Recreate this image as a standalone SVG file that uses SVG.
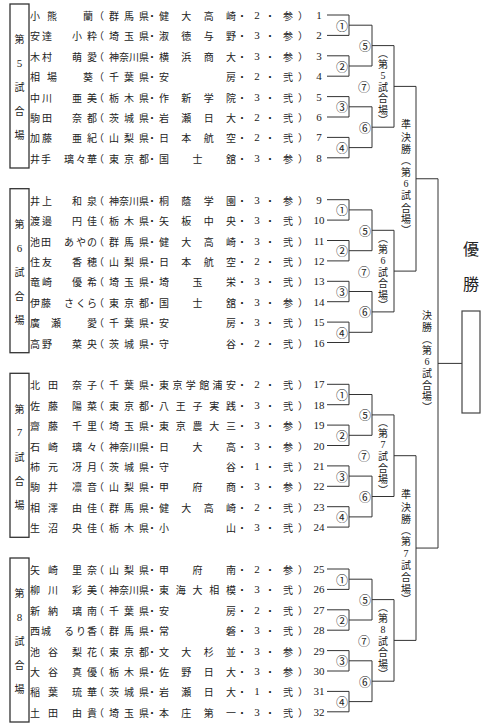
<svg xmlns="http://www.w3.org/2000/svg" width="498" height="724" viewBox="0 0 498 724">
<style>
.t{font-family:"Noto Sans CJK JP","Noto Sans CJK SC",sans-serif;font-size:10px;fill:#222;text-anchor:middle;dominant-baseline:central}
.c{font-size:12px}
.d{font-family:"Liberation Serif",serif;font-size:11px}
.dv{font-family:"Liberation Serif",serif;font-size:10px}
.n{font-family:"Liberation Serif",serif;font-size:11px;fill:#222;text-anchor:middle;dominant-baseline:central}
.w{font-family:"Noto Sans CJK JP","Noto Sans CJK SC",sans-serif;font-size:16px;fill:#222;text-anchor:middle;dominant-baseline:central}
.box{fill:none;stroke:#333;stroke-width:1.3}
.ln{fill:none;stroke:#333;stroke-width:1}
</style>
<rect width="498" height="724" fill="#fff"/>

<g id="venue5"><rect class="box" x="10" y="4" width="19" height="164"/><text class="t" x="19.5 19.5 19.5 19.5 19.5" y="38.9 62.9 86.9 110.9 134.9">第<tspan class="d">5</tspan>試合場</text></g>
<g id="venue6"><rect class="box" x="10" y="188.7" width="19" height="164"/><text class="t" x="19.5 19.5 19.5 19.5 19.5" y="223.6 247.6 271.6 295.6 319.6">第<tspan class="d">6</tspan>試合場</text></g>
<g id="venue7"><rect class="box" x="10" y="373.3" width="19" height="164"/><text class="t" x="19.5 19.5 19.5 19.5 19.5" y="408.2 432.2 456.2 480.2 504.2">第<tspan class="d">7</tspan>試合場</text></g>
<g id="venue8"><rect class="box" x="10" y="558" width="19" height="164"/><text class="t" x="19.5 19.5 19.5 19.5 19.5" y="592.9 616.9 640.9 664.9 688.9">第<tspan class="d">8</tspan>試合場</text></g>

<g id="p1"><text class="t" y="15"><tspan x="35 52 88">小熊蘭</tspan><tspan x="99 114 129 144 152">（群馬県・</tspan><tspan x="164 186.3 208.7 231">健大高崎</tspan><tspan x="242">・</tspan><tspan x="257" class="d">2</tspan><tspan x="270 288 303">・参）</tspan></text><text class="n" x="319" y="15">1</text></g>
<g id="p2"><text class="t" y="35.4"><tspan x="35 47 77 92">安達小粋</tspan><tspan x="99 114 129 144 152">（埼玉県・</tspan><tspan x="164 186.3 208.7 231">淑徳与野</tspan><tspan x="242">・</tspan><tspan x="257" class="d">3</tspan><tspan x="270 288 303">・参）</tspan></text><text class="n" x="319" y="35.4">2</text></g>
<g id="p3"><text class="t" y="55.8"><tspan x="35 47 77 92">木村萌愛</tspan><tspan x="99 114 124 134 144 152">（神奈川県・</tspan><tspan x="164 186.3 208.7 231">横浜商大</tspan><tspan x="242">・</tspan><tspan x="257" class="d">3</tspan><tspan x="270 288 303">・参）</tspan></text><text class="n" x="319" y="55.8">3</text></g>
<g id="p4"><text class="t" y="76.2"><tspan x="35 52 88">相場葵</tspan><tspan x="99 114 129 144 152">（千葉県・</tspan><tspan x="164 231">安房</tspan><tspan x="242">・</tspan><tspan x="257" class="d">2</tspan><tspan x="270 288 303">・弐）</tspan></text><text class="n" x="319" y="76.2">4</text></g>
<g id="p5"><text class="t" y="96.6"><tspan x="35 47 77 92">中川亜美</tspan><tspan x="99 114 129 144 152">（栃木県・</tspan><tspan x="164 186.3 208.7 231">作新学院</tspan><tspan x="242">・</tspan><tspan x="257" class="d">3</tspan><tspan x="270 288 303">・弐）</tspan></text><text class="n" x="319" y="96.6">5</text></g>
<g id="p6"><text class="t" y="117"><tspan x="35 47 77 92">駒田奈都</tspan><tspan x="99 114 129 144 152">（茨城県・</tspan><tspan x="164 186.3 208.7 231">岩瀬日大</tspan><tspan x="242">・</tspan><tspan x="257" class="d">2</tspan><tspan x="270 288 303">・弐）</tspan></text><text class="n" x="319" y="117">6</text></g>
<g id="p7"><text class="t" y="137.4"><tspan x="35 47 77 92">加藤亜紀</tspan><tspan x="99 114 129 144 152">（山梨県・</tspan><tspan x="164 186.3 208.7 231">日本航空</tspan><tspan x="242">・</tspan><tspan x="257" class="d">2</tspan><tspan x="270 288 303">・弐）</tspan></text><text class="n" x="319" y="137.4">7</text></g>
<g id="p8"><text class="t" y="157.8"><tspan x="35 46 69 81 92">井手璃々華</tspan><tspan x="99 114 129 144 152">（東京都・</tspan><tspan x="164 197.5 231">国士舘</tspan><tspan x="242">・</tspan><tspan x="257" class="d">3</tspan><tspan x="270 288 303">・参）</tspan></text><text class="n" x="319" y="157.8">8</text></g>

<g id="p9"><text class="t" y="199.7"><tspan x="35 47 77 92">井上和泉</tspan><tspan x="99 114 124 134 144 152">（神奈川県・</tspan><tspan x="164 186.3 208.7 231">桐蔭学園</tspan><tspan x="242">・</tspan><tspan x="257" class="d">3</tspan><tspan x="270 288 303">・参）</tspan></text><text class="n" x="319" y="199.7">9</text></g>
<g id="p10"><text class="t" y="220.1"><tspan x="35 47 77 92">渡邉円佳</tspan><tspan x="99 114 129 144 152">（栃木県・</tspan><tspan x="164 186.3 208.7 231">矢板中央</tspan><tspan x="242">・</tspan><tspan x="257" class="d">3</tspan><tspan x="270 288 303">・弐）</tspan></text><text class="n" x="319" y="220.1">10</text></g>
<g id="p11"><text class="t" y="240.5"><tspan x="35 46 69 81 92">池田あやの</tspan><tspan x="99 114 129 144 152">（群馬県・</tspan><tspan x="164 186.3 208.7 231">健大高崎</tspan><tspan x="242">・</tspan><tspan x="257" class="d">3</tspan><tspan x="270 288 303">・弐）</tspan></text><text class="n" x="319" y="240.5">11</text></g>
<g id="p12"><text class="t" y="260.9"><tspan x="35 47 77 92">住友香穂</tspan><tspan x="99 114 129 144 152">（山梨県・</tspan><tspan x="164 186.3 208.7 231">日本航空</tspan><tspan x="242">・</tspan><tspan x="257" class="d">2</tspan><tspan x="270 288 303">・弐）</tspan></text><text class="n" x="319" y="260.9">12</text></g>
<g id="p13"><text class="t" y="281.3"><tspan x="35 47 77 92">竜崎優希</tspan><tspan x="99 114 129 144 152">（埼玉県・</tspan><tspan x="164 197.5 231">埼玉栄</tspan><tspan x="242">・</tspan><tspan x="257" class="d">3</tspan><tspan x="270 288 303">・弐）</tspan></text><text class="n" x="319" y="281.3">13</text></g>
<g id="p14"><text class="t" y="301.7"><tspan x="35 46 69 81 92">伊藤さくら</tspan><tspan x="99 114 129 144 152">（東京都・</tspan><tspan x="164 197.5 231">国士舘</tspan><tspan x="242">・</tspan><tspan x="257" class="d">3</tspan><tspan x="270 288 303">・参）</tspan></text><text class="n" x="319" y="301.7">14</text></g>
<g id="p15"><text class="t" y="322.1"><tspan x="35 56 92">廣瀬愛</tspan><tspan x="99 114 129 144 152">（千葉県・</tspan><tspan x="164 231">安房</tspan><tspan x="242">・</tspan><tspan x="257" class="d">3</tspan><tspan x="270 288 303">・弐）</tspan></text><text class="n" x="319" y="322.1">15</text></g>
<g id="p16"><text class="t" y="342.5"><tspan x="35 47 77 92">高野菜央</tspan><tspan x="99 114 129 144 152">（茨城県・</tspan><tspan x="164 231">守谷</tspan><tspan x="242">・</tspan><tspan x="257" class="d">2</tspan><tspan x="270 288 303">・弐）</tspan></text><text class="n" x="319" y="342.5">16</text></g>

<g id="p17"><text class="t" y="384.3"><tspan x="35 53 77 92">北田奈子</tspan><tspan x="99 114 129 144 152">（千葉県・</tspan><tspan x="164 177.4 190.8 204.2 217.6 231">東京学館浦安</tspan><tspan x="242">・</tspan><tspan x="257" class="d">2</tspan><tspan x="270 288 303">・弐）</tspan></text><text class="n" x="319" y="384.3">17</text></g>
<g id="p18"><text class="t" y="404.7"><tspan x="35 53 77 92">佐藤陽菜</tspan><tspan x="99 114 129 144 152">（東京都・</tspan><tspan x="164 180.75 197.5 214.25 231">八王子実践</tspan><tspan x="242">・</tspan><tspan x="257" class="d">3</tspan><tspan x="270 288 303">・弐）</tspan></text><text class="n" x="319" y="404.7">18</text></g>
<g id="p19"><text class="t" y="425.1"><tspan x="35 53 77 92">齋藤千里</tspan><tspan x="99 114 129 144 152">（埼玉県・</tspan><tspan x="164 180.75 197.5 214.25 231">東京農大三</tspan><tspan x="242">・</tspan><tspan x="257" class="d">3</tspan><tspan x="270 288 303">・参）</tspan></text><text class="n" x="319" y="425.1">19</text></g>
<g id="p20"><text class="t" y="445.5"><tspan x="35 53 77 92">石崎璃々</tspan><tspan x="99 114 124 134 144 152">（神奈川県・</tspan><tspan x="164 197.5 231">日大高</tspan><tspan x="242">・</tspan><tspan x="257" class="d">3</tspan><tspan x="270 288 303">・参）</tspan></text><text class="n" x="319" y="445.5">20</text></g>
<g id="p21"><text class="t" y="465.9"><tspan x="35 53 77 92">柿元冴月</tspan><tspan x="99 114 129 144 152">（茨城県・</tspan><tspan x="164 231">守谷</tspan><tspan x="242">・</tspan><tspan x="257" class="d">1</tspan><tspan x="270 288 303">・弐）</tspan></text><text class="n" x="319" y="465.9">21</text></g>
<g id="p22"><text class="t" y="486.3"><tspan x="35 53 77 92">駒井凛音</tspan><tspan x="99 114 129 144 152">（山梨県・</tspan><tspan x="164 197.5 231">甲府商</tspan><tspan x="242">・</tspan><tspan x="257" class="d">3</tspan><tspan x="270 288 303">・参）</tspan></text><text class="n" x="319" y="486.3">22</text></g>
<g id="p23"><text class="t" y="506.7"><tspan x="35 53 77 92">相澤由佳</tspan><tspan x="99 114 129 144 152">（群馬県・</tspan><tspan x="164 186.3 208.7 231">健大高崎</tspan><tspan x="242">・</tspan><tspan x="257" class="d">2</tspan><tspan x="270 288 303">・弐）</tspan></text><text class="n" x="319" y="506.7">23</text></g>
<g id="p24"><text class="t" y="527.1"><tspan x="35 53 77 92">生沼央佳</tspan><tspan x="99 114 129 144 152">（栃木県・</tspan><tspan x="164 231">小山</tspan><tspan x="242">・</tspan><tspan x="257" class="d">3</tspan><tspan x="270 288 303">・弐）</tspan></text><text class="n" x="319" y="527.1">24</text></g>

<g id="p25"><text class="t" y="569"><tspan x="35 53 77 92">矢崎里奈</tspan><tspan x="99 114 129 144 152">（山梨県・</tspan><tspan x="164 197.5 231">甲府南</tspan><tspan x="242">・</tspan><tspan x="257" class="d">2</tspan><tspan x="270 288 303">・参）</tspan></text><text class="n" x="319" y="569">25</text></g>
<g id="p26"><text class="t" y="589.4"><tspan x="35 53 77 92">柳川彩美</tspan><tspan x="99 114 124 134 144 152">（神奈川県・</tspan><tspan x="164 180.75 197.5 214.25 231">東海大相模</tspan><tspan x="242">・</tspan><tspan x="257" class="d">3</tspan><tspan x="270 288 303">・弐）</tspan></text><text class="n" x="319" y="589.4">26</text></g>
<g id="p27"><text class="t" y="609.8"><tspan x="35 53 77 92">新納璃南</tspan><tspan x="99 114 129 144 152">（千葉県・</tspan><tspan x="164 231">安房</tspan><tspan x="242">・</tspan><tspan x="257" class="d">2</tspan><tspan x="270 288 303">・弐）</tspan></text><text class="n" x="319" y="609.8">27</text></g>
<g id="p28"><text class="t" y="630.2"><tspan x="35 46 69 81 92">西城るり香</tspan><tspan x="99 114 129 144 152">（群馬県・</tspan><tspan x="164 231">常磐</tspan><tspan x="242">・</tspan><tspan x="257" class="d">3</tspan><tspan x="270 288 303">・弐）</tspan></text><text class="n" x="319" y="630.2">28</text></g>
<g id="p29"><text class="t" y="650.6"><tspan x="35 53 77 92">池谷梨花</tspan><tspan x="99 114 129 144 152">（東京都・</tspan><tspan x="164 186.3 208.7 231">文大杉並</tspan><tspan x="242">・</tspan><tspan x="257" class="d">3</tspan><tspan x="270 288 303">・参）</tspan></text><text class="n" x="319" y="650.6">29</text></g>
<g id="p30"><text class="t" y="671"><tspan x="35 53 77 92">大谷真優</tspan><tspan x="99 114 129 144 152">（栃木県・</tspan><tspan x="164 186.3 208.7 231">佐野日大</tspan><tspan x="242">・</tspan><tspan x="257" class="d">3</tspan><tspan x="270 288 303">・参）</tspan></text><text class="n" x="319" y="671">30</text></g>
<g id="p31"><text class="t" y="691.4"><tspan x="35 53 77 92">稲葉琉華</tspan><tspan x="99 114 129 144 152">（茨城県・</tspan><tspan x="164 186.3 208.7 231">岩瀬日大</tspan><tspan x="242">・</tspan><tspan x="257" class="d">1</tspan><tspan x="270 288 303">・弐）</tspan></text><text class="n" x="319" y="691.4">31</text></g>
<g id="p32"><text class="t" y="711.8"><tspan x="35 53 77 92">土田由貴</tspan><tspan x="99 114 129 144 152">（埼玉県・</tspan><tspan x="164 186.3 208.7 231">本庄第一</tspan><tspan x="242">・</tspan><tspan x="257" class="d">3</tspan><tspan x="270 288 303">・弐）</tspan></text><text class="n" x="319" y="711.8">32</text></g>

<g id="connectors" class="ln">
<path d="M327 15H349V35.4H327M327 55.8H349V76.2H327M327 96.6H349V117H327M327 137.4H349V157.8H327M349 25.2H372V66H349M349 106.8H372V147.6H349M372 45.6H394V127.2H372"/>
<path d="M327 199.7H349V220.1H327M327 240.5H349V260.9H327M327 281.3H349V301.7H327M327 322.1H349V342.5H327M349 209.9H372V250.7H349M349 291.5H372V332.3H349M372 230.3H394V311.9H372"/>
<path d="M327 384.3H349V404.7H327M327 425.1H349V445.5H327M327 465.9H349V486.3H327M327 506.7H349V527.1H327M349 394.5H372V435.3H349M349 476.1H372V516.9H349M372 414.9H394V496.5H372"/>
<path d="M327 569H349V589.4H327M327 609.8H349V630.2H327M327 650.6H349V671H327M327 691.4H349V711.8H327M349 579.2H372V620H349M349 660.8H372V701.6H349M372 599.6H394V681.2H372"/>
<path d="M394 86.4H416V271.1H394M394 455.7H416V640.4H394M416 178.75H438V548.05H416M438 363.4H462"/>
</g>

<g id="match-labels">
<text class="t c" x="342 342 342 342 365 365 364" y="25.2 66 106.8 147.6 45.6 127.2 86.4">①②③④⑤⑥⑦</text>
<text class="t c" x="342 342 342 342 365 365 364" y="209.9 250.7 291.5 332.3 230.3 311.9 271.1">①②③④⑤⑥⑦</text>
<text class="t c" x="342 342 342 342 365 365 364" y="394.5 435.3 476.1 516.9 414.9 496.5 455.7">①②③④⑤⑥⑦</text>
<text class="t c" x="342 342 342 342 365 365 364" y="579.2 620 660.8 701.6 599.6 681.2 640.4">①②③④⑤⑥⑦</text>
<text class="t" x="383 383 383 383 383 383 383" y="52.4 63.4 74.9 86.4 97.9 109.4 119.9">︵第<tspan class="dv">5</tspan>試合場︶</text>
<text class="t" x="383 383 383 383 383 383 383" y="237.1 248.1 259.6 271.1 282.6 294.1 304.6">︵第<tspan class="dv">6</tspan>試合場︶</text>
<text class="t" x="383 383 383 383 383 383 383" y="421.7 432.7 444.2 455.7 467.2 478.7 489.2">︵第<tspan class="dv">7</tspan>試合場︶</text>
<text class="t" x="383 383 383 383 383 383 383" y="606.4 617.4 628.9 640.4 651.9 663.4 673.9">︵第<tspan class="dv">8</tspan>試合場︶</text>
<text class="t" x="406 406 406 406 406 406 406 406 406 406" y="123.75 136.75 148.75 159.75 171.25 183.25 194.75 207.25 218.75 229.25">準決勝︵第<tspan class="dv">6</tspan>試合場︶</text>
<text class="t" x="406 406 406 406 406 406 406 406 406 406" y="493.05 506.05 518.05 529.05 540.55 552.55 564.05 576.55 588.05 598.55">準決勝︵第<tspan class="dv">7</tspan>試合場︶</text>
<text class="t" x="427 427 427 427 427 427 427 427 427" y="314 326 338 349.5 361 372.5 384 395.5 406">決勝︵第<tspan class="dv">6</tspan>試合場︶</text>
</g>

<g id="winner">
<text class="w" x="471 471" y="248 283">優勝</text>
<rect x="462" y="311" width="18" height="102" fill="none" stroke="#444" stroke-width="1.2"/>
</g>
</svg>
